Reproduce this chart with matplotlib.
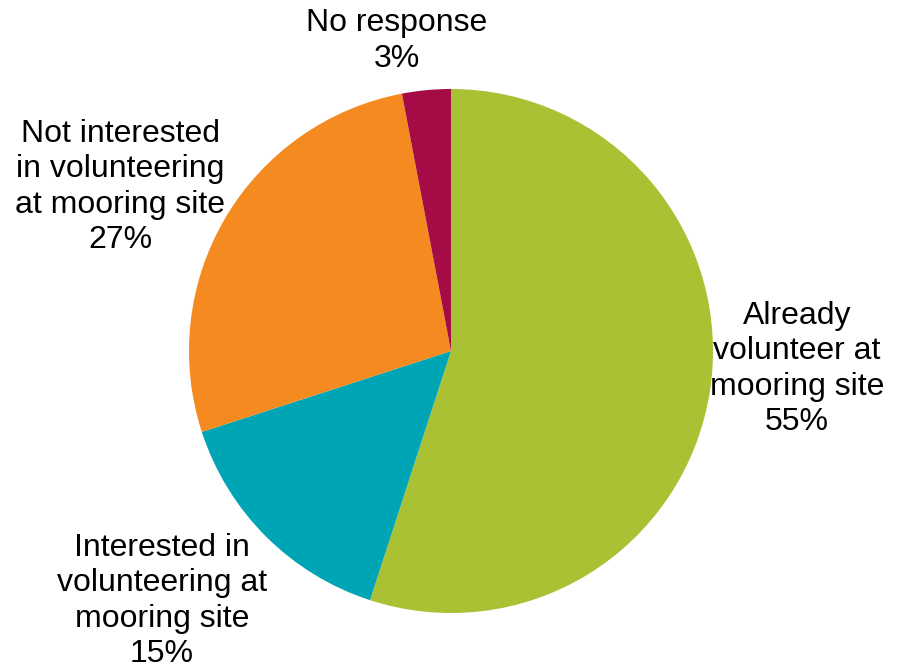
import matplotlib
matplotlib.use("Agg")
import matplotlib.pyplot as plt

categories = ["Already\nvolunteer at\nmooring site",
              "Interested in\nvolunteering at\nmooring site",
              "Not interested\nin volunteering\nat mooring site",
              "No response"]
shares = [55, 15, 27, 3]
colors = ["#A9C132", "#00A5B5", "#F58A20", "#A50B44"]

W, H = 897, 667
fig = plt.figure(figsize=(W / 100, H / 100), dpi=100)
ax = fig.add_axes([0, 0, 1, 1])

ax.pie(shares, colors=colors, startangle=90, counterclock=False,
       center=(451, H - 351), radius=262, frame=True,
       wedgeprops=dict(linewidth=0))
ax.set_xlim(0, W)
ax.set_ylim(0, H)
ax.set_aspect("equal")
ax.axis("off")

# label anchor points (pixel layout, top-left origin)
label_pos = [(797, 369), (162, 601), (120, 187), (397, 41)]
for name, val, (x, y) in zip(categories, shares, label_pos):
    ax.text(x, H - y, f"{name}\n{val}%", ha="center", va="center",
            fontsize=23, family="Liberation Sans", linespacing=1.24,
            color="black")

fig.savefig("out.png", dpi=100)
